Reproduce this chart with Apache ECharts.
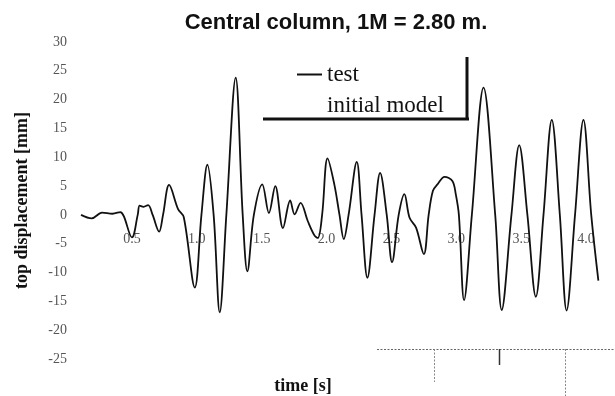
<!DOCTYPE html>
<html>
<head>
<meta charset="utf-8">
<script src="https://cdn.jsdelivr.net/npm/echarts@6/dist/echarts.min.js"></script>
<style>html,body{margin:0;padding:0;background:#fff;}#c{width:615px;height:396px;}</style>
</head>
<body>
<div id="c"></div>
<script>
const titleText = 'Central column, 1M = 2.80 m.';
const xName = 'time [s]';
const yName = 'top displacement [mm]';
const seriesNames = ['test', 'initial model'];
const timeS = [0.108, 0.19, 0.27, 0.35, 0.41, 0.50, 0.545, 0.56, 0.59, 0.625, 0.66, 0.71, 0.74, 0.787, 0.856, 0.90, 0.985, 1.036, 1.082, 1.13, 1.177, 1.228, 1.30, 1.354, 1.39, 1.44, 1.505, 1.556, 1.605, 1.664, 1.72, 1.754, 1.80, 1.856, 1.908, 1.933, 1.966, 2.008, 2.06, 2.10, 2.133, 2.17, 2.233, 2.27, 2.315, 2.37, 2.413, 2.464, 2.505, 2.556, 2.60, 2.64, 2.69, 2.75, 2.787, 2.82, 2.855, 2.91, 2.97, 2.996, 3.02, 3.06, 3.12, 3.21, 3.30, 3.35, 3.425, 3.485, 3.548, 3.613, 3.672, 3.736, 3.798, 3.85, 3.915, 3.98, 4.04, 4.095];
const testMM = [0, -0.6, 0.4, 0.2, 0.5, -3.9, 0, 1.6, 1.4, 1.7, 0, -2.9, 0, 5.2, 1.0, -0.4, -12.6, 0, 8.7, 0, -16.9, 0, 23.8, 0, -9.8, 0, 5.3, 0.3, 5.0, -2.3, 2.5, 0.1, 2.1, -1.1, -3.6, -4.0, 0, 9.8, 5.3, 0, -4.2, 0, 9.2, 0, -10.9, 0, 7.3, 0, -8.2, 0, 3.6, -0.5, -2.2, -6.8, 0, 4.2, 5.3, 6.6, 5.9, 3.6, 0, -14.8, 0, 22.1, 0, -16.5, 0, 12.1, 0, -14.2, 0, 16.5, 0, -16.6, 0, 16.5, 0, -11.4];
const initialModelMM = [];
const yTicks = {min: -25, max: 30, step: 5};
const xTicks = {min: 0, max: 4.2, step: 0.5};

const gridTop = 42, gridHeight = 317;
// x-axis labels sit just under the zero line, as in the scanned figure
const zeroOffset = -gridHeight * (0 - yTicks.min) / (yTicks.max - yTicks.min);

const chart = echarts.init(document.getElementById('c'), null, {renderer: 'canvas'});
const serif = '"Liberation Serif", "Times New Roman", serif';
chart.setOption({
  animation: false,
  backgroundColor: '#fff',
  title: [
    {text: titleText, left: 331, top: 7, textAlign: 'center',
     textStyle: {fontFamily: '"Liberation Sans", Arial, sans-serif', fontWeight: 'bold', fontSize: 22, color: '#111'}},
    {text: xName, left: 298, top: 372, textAlign: 'center',
     textStyle: {fontFamily: serif, fontWeight: 'bold', fontSize: 18, color: '#111'}}
  ],
  legend: {
    orient: 'vertical', left: 292, top: 58, itemWidth: 25, itemHeight: 2, itemGap: 8,
    textStyle: {fontFamily: serif, fontSize: 23, color: '#111'},
    data: [{name: seriesNames[0], icon: 'rect'}, {name: seriesNames[1], icon: 'none'}]
  },
  grid: {left: 67, top: gridTop, height: gridHeight, width: 546},
  xAxis: {
    type: 'value', min: xTicks.min, max: xTicks.max, interval: xTicks.step,
    position: 'bottom', offset: zeroOffset,
    axisLine: {show: false, onZero: false}, axisTick: {show: false}, splitLine: {show: false},
    axisLabel: {margin: 17, fontFamily: serif, fontSize: 14, color: '#555',
      formatter: v => (v > 0 && Math.abs(v * 2 - Math.round(v * 2)) < 1e-6) ? v.toFixed(1) : ''}
  },
  yAxis: {
    type: 'value', min: yTicks.min, max: yTicks.max, interval: yTicks.step,
    name: yName, nameLocation: 'middle', nameGap: 36, nameRotate: 90,
    nameTextStyle: {fontFamily: serif, fontWeight: 'bold', fontSize: 18, color: '#111'},
    axisLine: {show: false, onZero: false}, axisTick: {show: false}, splitLine: {show: false},
    axisLabel: {margin: 0, fontFamily: serif, fontSize: 14, color: '#555'}
  },
  series: [
    {name: seriesNames[0], type: 'line', data: timeS.map((t, i) => [t, testMM[i]]),
     showSymbol: false, smooth: 0.35, color: '#111', lineStyle: {color: '#111', width: 1.8}},
    {name: seriesNames[1], type: 'line', data: initialModelMM, showSymbol: false,
     color: 'rgba(0,0,0,0)', lineStyle: {color: 'rgba(0,0,0,0)'}}
  ],
  graphic: [
    {type: 'line', shape: {x1: 263, y1: 119, x2: 469, y2: 119}, style: {stroke: '#111', lineWidth: 3}},
    {type: 'line', shape: {x1: 467, y1: 57, x2: 467, y2: 120}, style: {stroke: '#111', lineWidth: 3}},
    {type: 'line', shape: {x1: 377, y1: 349.5, x2: 615, y2: 349.5}, style: {stroke: '#666', lineWidth: 1, lineDash: [2, 1.5]}},
    {type: 'line', shape: {x1: 434.5, y1: 349, x2: 434.5, y2: 382}, style: {stroke: '#888', lineWidth: 1, lineDash: [2, 1.5]}},
    {type: 'line', shape: {x1: 565.5, y1: 349, x2: 565.5, y2: 396}, style: {stroke: '#888', lineWidth: 1, lineDash: [2, 1.5]}},
    {type: 'line', shape: {x1: 499.5, y1: 349, x2: 499.5, y2: 365}, style: {stroke: '#333', lineWidth: 1.5}}
  ]
});
</script>
</body>
</html>
